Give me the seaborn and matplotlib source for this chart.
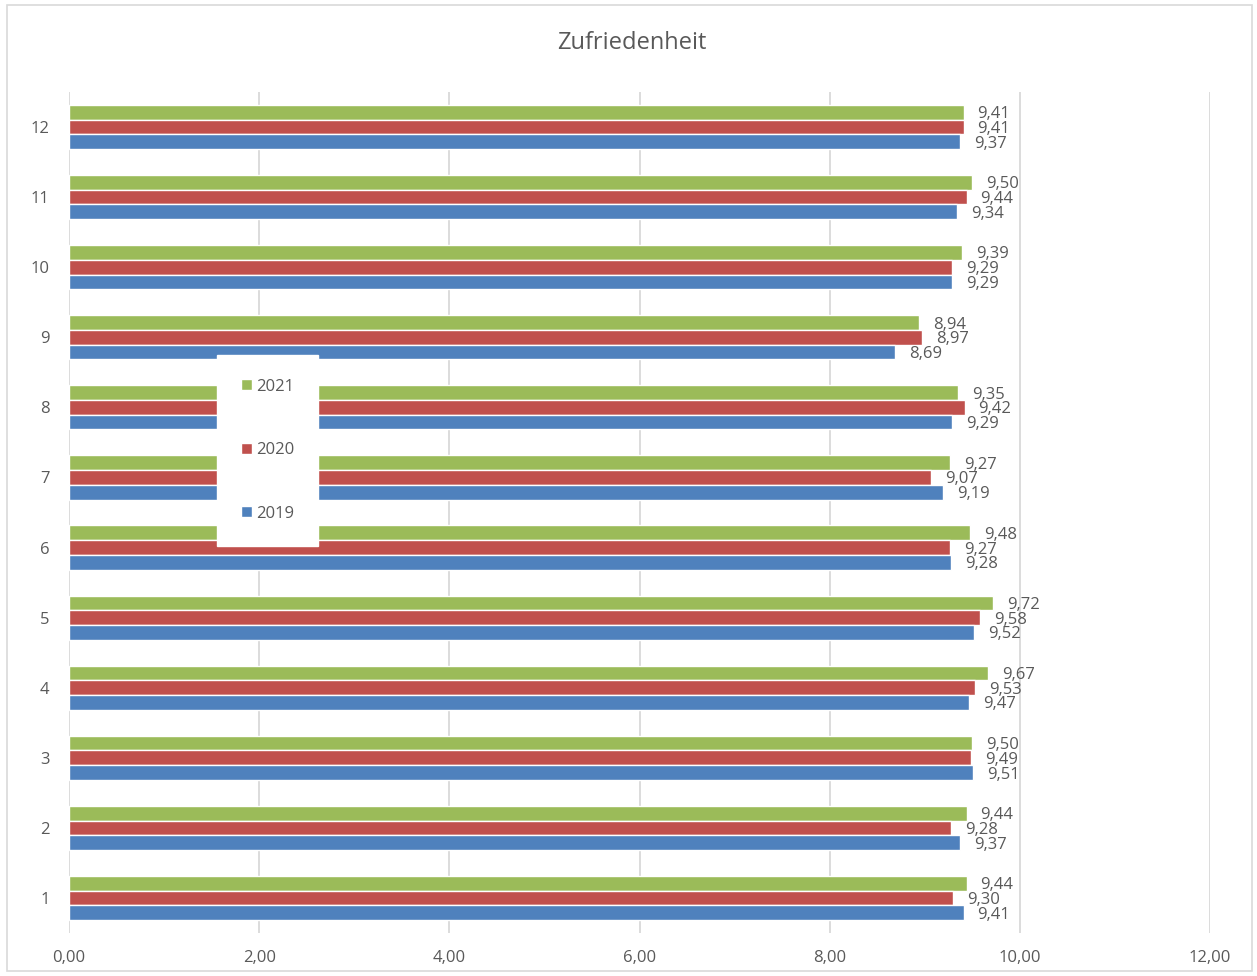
import pandas as pd
import matplotlib
matplotlib.use('Agg')
import matplotlib.pyplot as plt
import seaborn as sns
from matplotlib.patches import Rectangle, Patch

categories = ['1', '2', '3', '4', '5', '6', '7', '8', '9', '10', '11', '12']
years = ['2019', '2020', '2021']
vals_2019 = [9.41, 9.37, 9.51, 9.47, 9.52, 9.28, 9.19, 9.29, 8.69, 9.29, 9.34, 9.37]
vals_2020 = [9.30, 9.28, 9.49, 9.53, 9.58, 9.27, 9.07, 9.42, 8.97, 9.29, 9.44, 9.41]
vals_2021 = [9.44, 9.44, 9.50, 9.67, 9.72, 9.48, 9.27, 9.35, 8.94, 9.39, 9.50, 9.41]
colors = {'2019': '#4F81BD', '2020': '#C0504D', '2021': '#9BBB59'}

rows = []
for yr, vals in zip(years, [vals_2019, vals_2020, vals_2021]):
    for c, v in zip(categories, vals):
        rows.append({'Kategorie': c, 'Jahr': yr, 'Wert': v})
df = pd.DataFrame(rows)

sns.set_style('white')
plt.rcParams['font.family'] = ['Open Sans', 'DejaVu Sans']
txt = '#595959'
fs = 12

fig = plt.figure(figsize=(12.57, 9.76), dpi=100)
ax = fig.add_axes([69 / 1257, 43 / 976, (1210 - 69) / 1257, (933 - 92) / 976])

sns.barplot(data=df, y='Kategorie', x='Wert', hue='Jahr', orient='h',
            order=categories[::-1], hue_order=['2021', '2020', '2019'],
            palette=colors, saturation=1, width=0.63, errorbar=None,
            legend=False, ax=ax, zorder=2)

for cont in ax.containers:
    labs = ax.bar_label(cont, fmt=lambda v: f"{v:.2f}".replace('.', ','),
                        padding=10, fontsize=fs, color=txt)
    for t in labs:
        t.set_va('center_baseline')

ax.set_xlim(0, 12)
ax.set_xticks(range(0, 13, 2))
ax.set_xticklabels([f"{t:.2f}".replace('.', ',') for t in range(0, 13, 2)])
ax.grid(axis='x', color='#d9d9d9', linewidth=1.3, zorder=0)
ax.grid(axis='y', visible=False)
for s in ax.spines.values():
    s.set_visible(False)
ax.tick_params(axis='both', length=0, labelsize=fs, labelcolor=txt)
ax.tick_params(axis='x', pad=12)
ax.tick_params(axis='y', pad=14)
ax.set_xlabel('')
ax.set_ylabel('')

handles = [Patch(facecolor=colors[y], label=y) for y in ['2021', '2020', '2019']]
leg = ax.legend(handles=handles, loc='center', bbox_to_anchor=(0.174, 0.574),
                frameon=True, fancybox=False, fontsize=fs, labelspacing=2.85,
                handlelength=0.65, handleheight=0.65, handletextpad=0.25,
                borderpad=1.45, borderaxespad=0)
leg.get_frame().set_facecolor('white')
leg.get_frame().set_edgecolor('white')
leg.get_frame().set_alpha(1)
for t in leg.get_texts():
    t.set_color(txt)

fig.text(0.503, 1 - 43 / 976, 'Zufriedenheit', ha='center', va='center',
         fontsize=17, color=txt)
fig.patches.append(Rectangle((7 / 1257, 5 / 976), 1245 / 1257, 966 / 976,
                             transform=fig.transFigure, fill=False,
                             edgecolor='#d9d9d9', linewidth=1.2))

fig.savefig('out.png', dpi=100)
